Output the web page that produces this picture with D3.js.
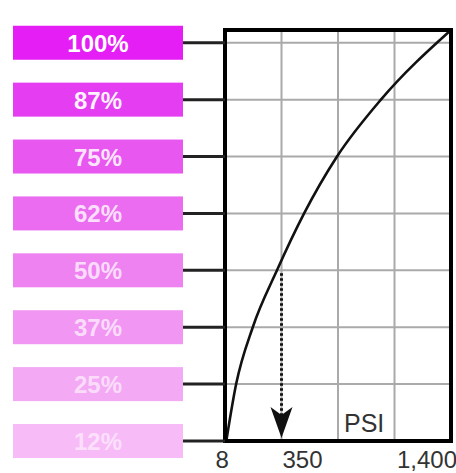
<!DOCTYPE html>
<html><head><meta charset="utf-8">
<script src="https://cdn.jsdelivr.net/npm/d3@7"></script>
<style>body{margin:0;background:#fff}svg{display:block}</style>
</head><body><svg id="c" width="456" height="473"></svg>
<script>
const levels = [12.5, 25, 37.5, 50, 62.5, 75, 87.5, 100];
const levelLabels = ["12%", "25%", "37%", "50%", "62%", "75%", "87%", "100%"];
const levelColors = ["#f7bcf7", "#f4a9f5", "#f197f3", "#ee82f1", "#eb6cf0", "#e857f0", "#e53ef2", "#e41ef4"];
const psiTicks = [8, 350, 1400];
const psiTickLabels = ["8", "350", "1,400"];
const psiGrid = [350, 700, 1050];
const curvePsi = [8, 69, 172, 322, 490, 694, 966, 1400];
const curvePct = [12.5, 25, 37.5, 50, 62.5, 75, 87.5, 102.8];
const markerPsi = 350;
const markerPct = 50;
const unitLabel = "PSI";

const svg = d3.select("#c");
const font = "'Liberation Sans', Arial, sans-serif";
const x = d3.scaleLinear().domain([0, 1400]).range([225, 451]);
const y = d3.scaleLinear().domain([12.5, 102.8]).range([441, 30]);
const [x0, x1] = x.range();
const [yb, yt] = y.range();

// grid
svg.append("g").selectAll("line").data(levels.slice(1)).join("line")
  .attr("x1", x0).attr("x2", x1).attr("y1", d => y(d)).attr("y2", d => y(d))
  .attr("stroke", "#aaa").attr("stroke-width", 2);
svg.append("g").selectAll("line").data(psiGrid).join("line")
  .attr("x1", d => x(d)).attr("x2", d => x(d)).attr("y1", yt).attr("y2", yb)
  .attr("stroke", "#aaa").attr("stroke-width", 2);

// curve
const pts = curvePsi.map((p, i) => [x(p), y(curvePct[i])]);
svg.append("path").attr("d", d3.line().curve(d3.curveMonotoneX)(pts))
  .attr("fill", "none").attr("stroke", "#111").attr("stroke-width", 2.6);

// dotted arrow
const mx = x(markerPsi);
svg.append("line").attr("x1", mx).attr("x2", mx)
  .attr("y1", y(markerPct) + 3).attr("y2", yb - 26)
  .attr("stroke", "#111").attr("stroke-width", 3).attr("stroke-dasharray", "2.5,2.5");
svg.append("path")
  .attr("d", `M${mx},${yb - 3} L${mx - 11},${yb - 34} L${mx},${yb - 26} L${mx + 11},${yb - 34} Z`)
  .attr("fill", "#111");

// frame
svg.append("rect").attr("x", x0).attr("y", yt).attr("width", x1 - x0).attr("height", yb - yt)
  .attr("fill", "none").attr("stroke", "#000").attr("stroke-width", 4);

// ticks + boxes
const boxL = 13, boxR = 183, boxH = 34;
const g = svg.append("g").selectAll("g").data(levels).join("g");
g.append("line").attr("x1", boxR).attr("x2", x0).attr("y1", d => y(d)).attr("y2", d => y(d))
  .attr("stroke", "#222").attr("stroke-width", 3);
g.append("rect").attr("x", boxL).attr("width", boxR - boxL)
  .attr("y", d => y(d) - boxH / 2).attr("height", boxH)
  .attr("fill", (d, i) => levelColors[i]);
g.append("text").attr("x", (boxL + boxR) / 2).attr("y", d => y(d) + 9)
  .attr("text-anchor", "middle").attr("font-family", font).attr("font-weight", "bold")
  .attr("font-size", 24).attr("fill", "#fff")
  .attr("fill-opacity", (d, i) => 0.55 + 0.45 * i / (levels.length - 1))
  .text((d, i) => levelLabels[i]);

// x tick labels
const anchors = ["middle", "start", "end"];
const dxs = [-4, 1, 6];
svg.append("g").selectAll("text").data(psiTicks).join("text")
  .attr("x", (d, i) => x(d) + dxs[i]).attr("y", 468)
  .attr("text-anchor", (d, i) => anchors[i])
  .attr("font-family", font).attr("font-size", 24).attr("fill", "#333")
  .text((d, i) => psiTickLabels[i]);

// unit label
svg.append("text").attr("x", x(700) + 6).attr("y", yb - 9)
  .attr("font-family", font).attr("font-size", 25).attr("fill", "#333").text(unitLabel);
</script></body></html>
